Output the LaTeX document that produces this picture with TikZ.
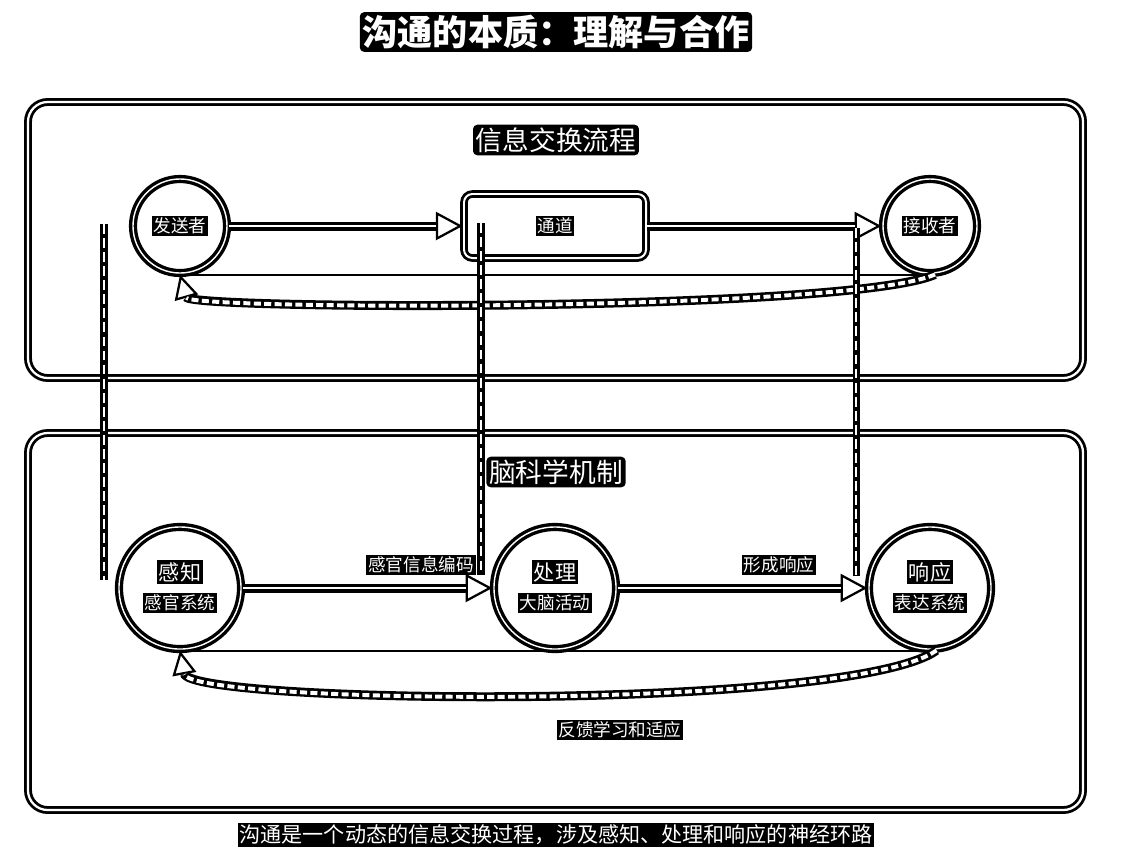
\documentclass[tikz,border=0pt]{standalone}
\usepackage{fontspec}
\setmainfont{Noto Sans CJK SC}
\usepackage{tikz}
\usetikzlibrary{arrows.meta}
\usepackage{xcolor}
\setlength{\fboxsep}{1.3pt}
\newcommand{\tg}[1]{\colorbox{black}{\color{white}#1}}

\begin{document}
\begin{tikzpicture}[x=0.025cm, y=-0.025cm,
  frame/.style={draw=black, line width=2pt, double=white, double distance=1.6pt, rounded corners=14pt},
  station/.style={circle, draw=black, line width=2.4pt, double=white, double distance=1pt, minimum size=2.35cm, inner sep=0pt},
  brain/.style={station, minimum size=3.05cm},
  chan/.style={draw=black, line width=2pt, double=white, double distance=1.4pt, rounded corners=6pt, minimum width=4.55cm, minimum height=1.6cm},
  tag/.style={inner sep=0pt, font=\fontsize{12.5}{14}\selectfont},
  sect/.style={fill=black, text=white, rounded corners=3pt, inner sep=2pt, font=\fontsize{19}{22}\selectfont},
  flow/.style={draw=black, line width=6.4pt, -{Triangle[length=19pt, width=20pt, fill=white, line width=1.6pt]},
    postaction={draw=white, line width=1.8pt, -, shorten >=19pt}},
  fback/.style={draw=black, line width=6.4pt, -{Triangle[length=17pt, width=17pt, fill=white, line width=1.6pt]},
    postaction={draw=white, line width=2.8pt, -, shorten >=17pt, dash pattern=on 5pt off 2.4pt}},
  link/.style={draw=black, line width=5pt, postaction={draw=white, line width=1.5pt, dash pattern=on 7pt off 3pt}}]
  \useasboundingbox (0,0) rectangle (1128,864);

  % title and the two panels
  \node[sect, font=\bfseries\fontsize{25}{28}\selectfont] (ttl) at (556,32) {沟通的本质：理解与合作};
  \draw[frame] (28,102) rectangle (1083,378);
  \draw[frame] (28,433) rectangle (1083,810);
  \node[sect] (infoT) at (556,140) {信息交换流程};
  \node[sect] (brainT) at (556,472) {脑科学机制};

  % information exchange
  \node[station] (snd) at (180,226) {};
  \node[tag] (sndT) at (snd) {\tg{发送者}};
  \node[chan] (chn) at (555,226) {};
  \node[tag] (chnT) at (chn) {\tg{通道}};
  \node[station] (rcv) at (930,226) {};
  \node[tag] (rcvT) at (rcv) {\tg{接收者}};

  \draw[flow] (snd.east) -- (chn.west);
  \draw[flow] (chn.east) -- (rcv.west);
  \draw[line width=1.4pt] (snd.south) -- (rcv.south);
  \draw[fback] (rcv.-84) .. controls (850,312) and (190,310) .. (snd.south);

  % brain mechanism
  \node[brain] (per) at (180,588) {};
  \node[tag, font=\fontsize{15}{17}\selectfont] (perA) at (180,572) {\tg{感知}};
  \node[tag] (perB) at (180,603) {\tg{感官系统}};
  \node[brain] (proc) at (555,588) {};
  \node[tag, font=\fontsize{15}{17}\selectfont] (procA) at (555,572) {\tg{处理}};
  \node[tag] (procB) at (555,603) {\tg{大脑活动}};
  \node[brain] (resp) at (930,588) {};
  \node[tag, font=\fontsize{15}{17}\selectfont] (respA) at (930,572) {\tg{响应}};
  \node[tag] (respB) at (930,603) {\tg{表达系统}};

  \draw[flow] (per.east) -- (proc.west);
  \draw[flow] (proc.east) -- (resp.west);
  \node[tag] (encL) at (421,565) {\tg{感官信息编码}};
  \node[tag] (outL) at (779,565) {\tg{形成响应}};
  \draw[line width=1.4pt] (per.south) -- (resp.south);
  \draw[fback] (resp.-84) .. controls (850,712) and (190,704) .. (per.south);
  \node[tag] (fbL) at (620,730) {\tg{反馈学习和适应}};

  % links between the panels
  \coordinate (lkA1) at (104,224);
  \coordinate (lkA2) at (104,580);
  \coordinate (lkB1) at (481,223);
  \coordinate (lkB2) at (481,575);
  \coordinate (lkC1) at (856,228);
  \coordinate (lkC2) at (856,576);
  \draw[link] (lkA1) -- (lkA2);
  \draw[link] (lkB1) -- (lkB2);
  \draw[link] (lkC1) -- (lkC2);

  \node[tag, font=\fontsize{15}{17}\selectfont] (cap) at (556,835) {\tg{沟通是一个动态的信息交换过程，涉及感知、处理和响应的神经环路}};
\end{tikzpicture}
\end{document}
